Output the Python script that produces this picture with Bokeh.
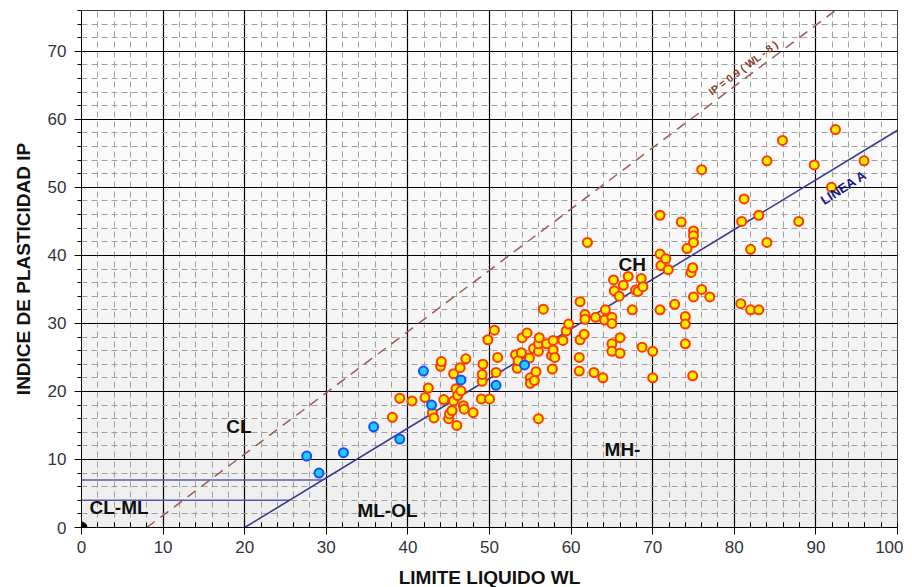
from bokeh.plotting import figure
from bokeh.models import (Range1d, SingleIntervalTicker, Label)
from bokeh.embed import file_html
from bokeh.resources import INLINE
import numpy as np

# ---- data ----
orange_wl = [38.1, 39.0, 40.5, 42.1, 42.5, 43.0, 43.2, 44.0, 44.1, 44.4, 45.0, 45.1, 45.4, 45.6,
             45.6, 45.9, 46.0, 46.1, 46.4, 46.5, 46.8, 46.9, 47.1, 48.0, 49.0, 49.1, 49.1, 49.2,
             49.8, 50.0, 50.6, 50.8, 51.0, 53.2, 53.4, 53.5, 53.9, 54.0, 54.6, 54.9, 55.0, 55.0,
             55.4, 55.5, 55.7, 56.0, 56.0, 56.0, 56.1, 56.6, 57.0, 57.6, 57.7, 57.8, 57.8, 58.0,
             59.0, 59.4, 59.7, 61.0, 61.0, 61.1, 61.1, 61.6, 61.7, 61.7, 62.0, 62.8, 63.0, 63.9,
             64.1, 64.2, 65.0, 65.0, 65.0, 65.0, 65.2, 65.3, 65.9, 66.0, 66.0, 66.4, 67.0, 67.5,
             67.9, 68.2, 68.6, 68.8, 68.7, 70.0, 70.0, 70.9, 70.9, 70.9, 71.0, 71.6, 71.9, 72.7,
             73.5, 74.0, 74.0, 74.0, 74.2, 74.7, 74.9, 74.9, 75.0, 75.0, 75.0, 75.0, 76.0, 76.0,
             77.0, 80.8, 80.9, 81.2, 82.0, 82.0, 83.0, 83.0, 84.0, 84.0, 85.9, 87.9, 89.8, 91.9,
             92.4, 95.9]
orange_ip = [16.2, 19.0, 18.6, 19.1, 20.5, 16.9, 16.1, 23.7, 24.4, 18.8, 16.0, 16.7, 17.2, 18.6,
             22.6, 20.4, 15.0, 19.4, 23.5, 20.1, 17.9, 17.4, 24.8, 16.9, 18.9, 21.5, 22.5, 24.0,
             27.6, 18.9, 29.0, 22.8, 25.0, 25.4, 23.4, 24.5, 25.7, 27.9, 28.6, 24.9, 22.0, 21.2,
             26.3, 21.6, 22.9, 25.9, 27.0, 16.0, 27.9, 32.1, 27.0, 25.3, 23.3, 26.1, 27.5, 25.0,
             27.5, 28.9, 29.9, 25.0, 23.0, 27.6, 33.2, 28.4, 31.3, 30.6, 41.9, 22.8, 30.9, 22.0,
             30.5, 32.0, 30.9, 30.0, 27.0, 25.9, 36.4, 34.8, 34.0, 27.9, 25.6, 35.6, 36.9, 32.0,
             34.9, 34.7, 36.6, 35.4, 26.5, 25.9, 22.0, 45.9, 40.2, 32.0, 38.5, 39.5, 37.9, 32.8,
             44.9, 31.0, 29.9, 27.0, 41.0, 37.5, 38.2, 22.3, 43.6, 42.9, 41.9, 33.9, 35.0, 52.6,
             33.9, 32.9, 45.0, 48.3, 40.9, 32.0, 45.9, 32.0, 53.9, 41.9, 56.9, 45.0, 53.3, 50.0,
             58.5, 53.9]
blue_wl = [27.6, 29.1, 32.1, 35.8, 39.0, 41.9, 42.9, 46.5, 50.8, 54.3]
blue_ip = [10.5, 8.0, 11.0, 14.8, 13.0, 23.0, 18.0, 21.7, 20.9, 23.9]

aline_wl = [20, 100]
aline_ip = [0, 58.4]
uline_wl = [8, 92.4]
uline_ip = [0, 76]
h7_wl = [0, 29.6]
h7_ip = [7, 7]
h4_wl = [0, 25.5]
h4_ip = [4, 4]

FONT = "Liberation Sans"

p = figure(frame_width=816, frame_height=517, output_backend="svg", toolbar_location=None,
           x_range=Range1d(0, 100), y_range=Range1d(0, 76),
           min_border_left=81, min_border_right=6, min_border_top=10, min_border_bottom=10)
p.background_fill_color = "white"
p.border_fill_color = "white"
p.outline_line_color = "black"
p.outline_line_width = 1

# background gradient bands
edges = np.linspace(0, 76, 39)
shades = np.linspace(0.935, 1.0, len(edges) - 1)
cols = ["#%02x%02x%02x" % (int(s * 255), int(s * 255), int(s * 255)) for s in shades]
bg = p.quad(left=0, right=100, bottom=edges[:-1], top=edges[1:], fill_color=cols,
            line_color=None)
bg.level = "image"

# axes / ticks
p.xaxis.ticker = SingleIntervalTicker(interval=10, num_minor_ticks=5)
p.yaxis.ticker = SingleIntervalTicker(interval=10, num_minor_ticks=5)
for ax in (p.xaxis[0], p.yaxis[0]):
    ax.axis_line_color = "black"
    ax.major_tick_line_color = "black"
    ax.minor_tick_line_color = "black"
    ax.major_label_text_font = FONT
    ax.major_label_text_font_size = "17px"
    ax.major_label_text_color = "#333340"
    ax.axis_label_text_font = FONT
    ax.axis_label_text_font_style = "bold"
    ax.axis_label_text_font_size = "19px"
    ax.axis_label_text_color = "#111111"
p.xaxis.major_tick_in = 0
p.xaxis.major_tick_out = 7
p.xaxis.minor_tick_in = 5
p.xaxis.minor_tick_out = 0
p.xaxis.major_label_standoff = 6
p.xaxis.axis_label_standoff = 11
p.yaxis.major_tick_in = 0
p.yaxis.major_tick_out = 7
p.yaxis.minor_tick_in = 0
p.yaxis.minor_tick_out = 4
p.yaxis.major_label_standoff = 8
p.yaxis.axis_label_standoff = 11
p.xaxis.axis_label = "LIMITE LIQUIDO WL"
p.yaxis.axis_label = "INDICE DE PLASTICIDAD IP"

for g in (p.xgrid[0], p.ygrid[0]):
    g.grid_line_color = "black"
    g.grid_line_width = 1.2
    g.minor_grid_line_color = "#a0a0a0"
    g.minor_grid_line_dash = "6 4"
    g.minor_grid_line_width = 1

# reference lines
p.line(h7_wl, h7_ip, line_color="#5a5aa8", line_width=1.5)
p.line(h4_wl, h4_ip, line_color="#5a5aa8", line_width=1.5)
p.line(uline_wl, uline_ip, line_color="#a05a55", line_width=1.5, line_dash="10 7")
p.line(aline_wl, aline_ip, line_color="#3a3a90", line_width=1.6)

# points
p.scatter(orange_wl, orange_ip, size=9, fill_color="#ffee00", line_color="#ff3a00",
          line_width=2)
p.scatter(blue_wl, blue_ip, size=9, fill_color="#22ccff", line_color="#1a4cff",
          line_width=2)
p.scatter([0], [0], size=11, fill_color="black", line_color="black")

# zone labels
def lab(x, y, t, size="19px", color="#111111", angle=0.0, style="bold"):
    p.add_layout(Label(x=x, y=y, text=t, text_font=FONT, text_font_size=size,
                       text_font_style=style, text_color=color, text_align="center",
                       text_baseline="middle", angle=angle))

lab(19.3, 14.9, "CL")
lab(4.6, 2.9, "CL-ML")
lab(37.5, 2.5, "ML-OL")
lab(66.3, 11.5, "MH-")
lab(67.5, 38.7, "CH")
lab(81.1, 67.6, "IP = 0.9 ( WL - 8 )", size="10.5px", color="#8a3a1e", angle=np.deg2rad(36.7))
lab(93.4, 50.0, "LINEA A", size="13px", color="#1a1a80", angle=np.deg2rad(32.6))

open("out.html", "w").write(file_html(p, INLINE))
